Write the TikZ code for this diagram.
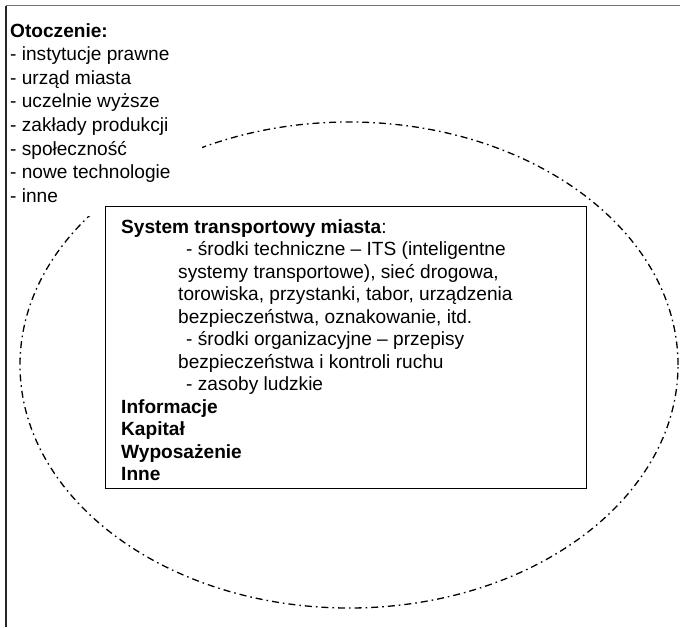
\documentclass[tikz,border=0pt]{standalone}
\usepackage{fontspec}
\setmainfont{Liberation Sans}
\usetikzlibrary{shapes.geometric}
\begin{document}
\begin{tikzpicture}[x=1pt,y=-1pt,
  txt/.style={anchor=base west,inner sep=0pt,font=\fontsize{19.1}{22}\selectfont},
  btxt/.style={txt,font=\fontsize{19.1}{22}\selectfont\bfseries},
  oval/.style={draw,ellipse,inner sep=0pt,line width=1.3pt,
    dash pattern=on 7pt off 4pt on 1.6pt off 4pt},
  sysbox/.style={draw,fill=white,line width=1.2pt,inner sep=0pt,anchor=north west}]
\useasboundingbox (0,0) rectangle (680,627);
% frame
\coordinate (tl) at (6,5.5);
\coordinate (tr) at (680,5.5);
\coordinate (bl) at (6,627);
\draw[black!55,line width=1.6pt] (tl) -- (tr);
\draw[black!85,line width=1.4pt] (tl) -- (bl);
% ellipse
\node[oval,minimum width=658pt,minimum height=486pt] (ell) at (349,365) {};
% white cover behind environment list
\fill[white] (7.5,7) rectangle (202,216);
% environment list
\node[btxt] (env0) at (10,37) {Otoczenie:};
\foreach \t [count=\i] in {- instytucje prawne,- urząd miasta,- uczelnie wyższe,- zakłady produkcji,- społeczność,- nowe technologie,- inne}
  \node[txt] (env\i) at (10,37+23.6*\i) {\t};
% system box
\node[sysbox,minimum width=481pt,minimum height=282pt] (box) at (104.5,205.5) {};
\node[txt] (s0) at (121,233) {\textbf{System transportowy miasta}:};
\node[txt] (s1) at (186,233+22.5) {- środki techniczne – ITS (inteligentne};
\node[txt] (s2) at (178,233+22.5*2) {systemy transportowe), sieć drogowa,};
\node[txt] (s3) at (178,233+22.5*3) {torowiska, przystanki, tabor, urządzenia};
\node[txt] (s4) at (178,233+22.5*4) {bezpieczeństwa, oznakowanie, itd.};
\node[txt] (s5) at (186,233+22.5*5) {- środki organizacyjne – przepisy};
\node[txt] (s6) at (178,233+22.5*6) {bezpieczeństwa i kontroli ruchu};
\node[txt] (s7) at (186,233+22.5*7) {- zasoby ludzkie};
\node[btxt] (s8) at (121,233+22.5*8) {Informacje};
\node[btxt] (s9) at (121,233+22.5*9) {Kapitał};
\node[btxt] (s10) at (121,233+22.5*10) {Wyposażenie};
\node[btxt] (s11) at (121,233+22.5*11) {Inne};
\end{tikzpicture}
\end{document}
